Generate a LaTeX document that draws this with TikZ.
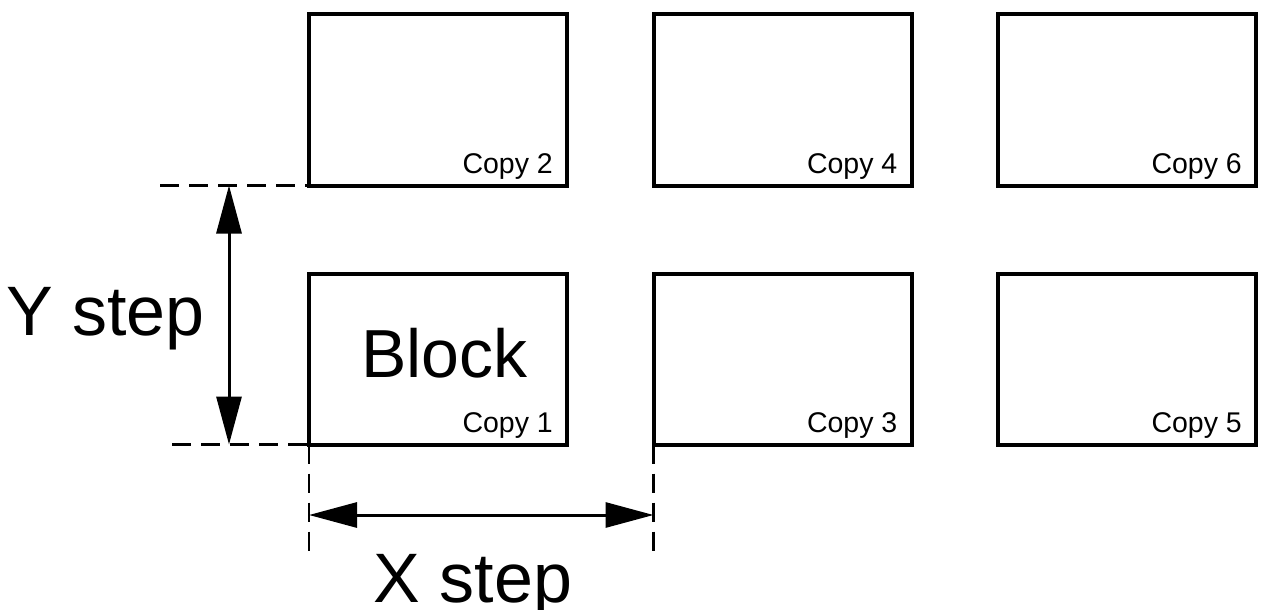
\documentclass[tikz,border=0pt]{standalone}
\usepackage{fontspec}
\setmainfont{Liberation Sans}
\usetikzlibrary{arrows.meta,calc}
\tikzset{
	blockbox/.style={draw, line width=4pt, minimum width=258pt, minimum height=171pt, inner sep=0pt, outer sep=0pt},
	copylabel/.style={anchor=base east, inner sep=0pt, font=\fontsize{28.5}{30}\selectfont},
	biglabel/.style={anchor=base, inner sep=0pt, font=\fontsize{70}{72}\selectfont},
	dimdash/.style={line width=2.5pt, dash pattern=on 19pt off 10pt},
	dimarrow/.style={<->, line width=3pt}
}
\begin{document}
\begin{tikzpicture}[x=1pt, y=-1pt, line join=miter, >={Triangle[length=48pt,width=25pt]}]
	\def\xstep{344.5} \def\ystep{259}
	\useasboundingbox (0,0) rectangle (1264,610);
	% blocks, bottom row odd, top row even
	\foreach \c [evaluate=\c as \nb using int(2*\c+1), evaluate=\c as \nt using int(2*\c+2)] in {0,1,2}{
		\node[blockbox] (copy\nb) at (438+\c*\xstep,359) {};
		\node[blockbox] (copy\nt) at (438+\c*\xstep,359-\ystep) {};
		\node[copylabel] (lab\nb) at ($(copy\nb.south east)+(-14,-12.5)$) {Copy \nb};
		\node[copylabel] (lab\nt) at ($(copy\nt.south east)+(-14,-12.5)$) {Copy \nt};
	}
	\node[anchor=base, inner sep=0pt, font=\fontsize{68}{70}\selectfont] (block) at ($(copy1.center)+(6.5,18)$) {Block};
	% Y step
	\coordinate (ytop) at ($(copy2.south west)+(-149,0)$);
	\coordinate (ybot) at ($(copy1.south west)+(-137,0)$);
	\draw[dimdash] (ytop) -- (copy2.south west);
	\draw[dimdash] (ybot) -- (copy1.south west);
	\path (ytop) ++(69,0) coordinate (yup);
	\path (ybot) ++(57,0) coordinate (ydown);
	\draw[dimarrow] (yup) -- (ydown);
	\node[biglabel] (ylabel) at (105.5,335) {Y step};
	% X step
	\coordinate (xl) at ($(copy1.south west)+(0,106)$);
	\coordinate (xr) at ($(copy3.south west)+(0,106)$);
	\draw[dimdash] (copy1.south west) -- (xl);
	\draw[dimdash] (copy3.south west) -- (xr);
	\path (copy1.south west) ++(0,70.5) coordinate (xleft);
	\path (copy3.south west) ++(0,70.5) coordinate (xright);
	\draw[dimarrow] (xleft) -- (xright);
	\node[biglabel] (xlabel) at (473,602) {X step};
\end{tikzpicture}
\end{document}
